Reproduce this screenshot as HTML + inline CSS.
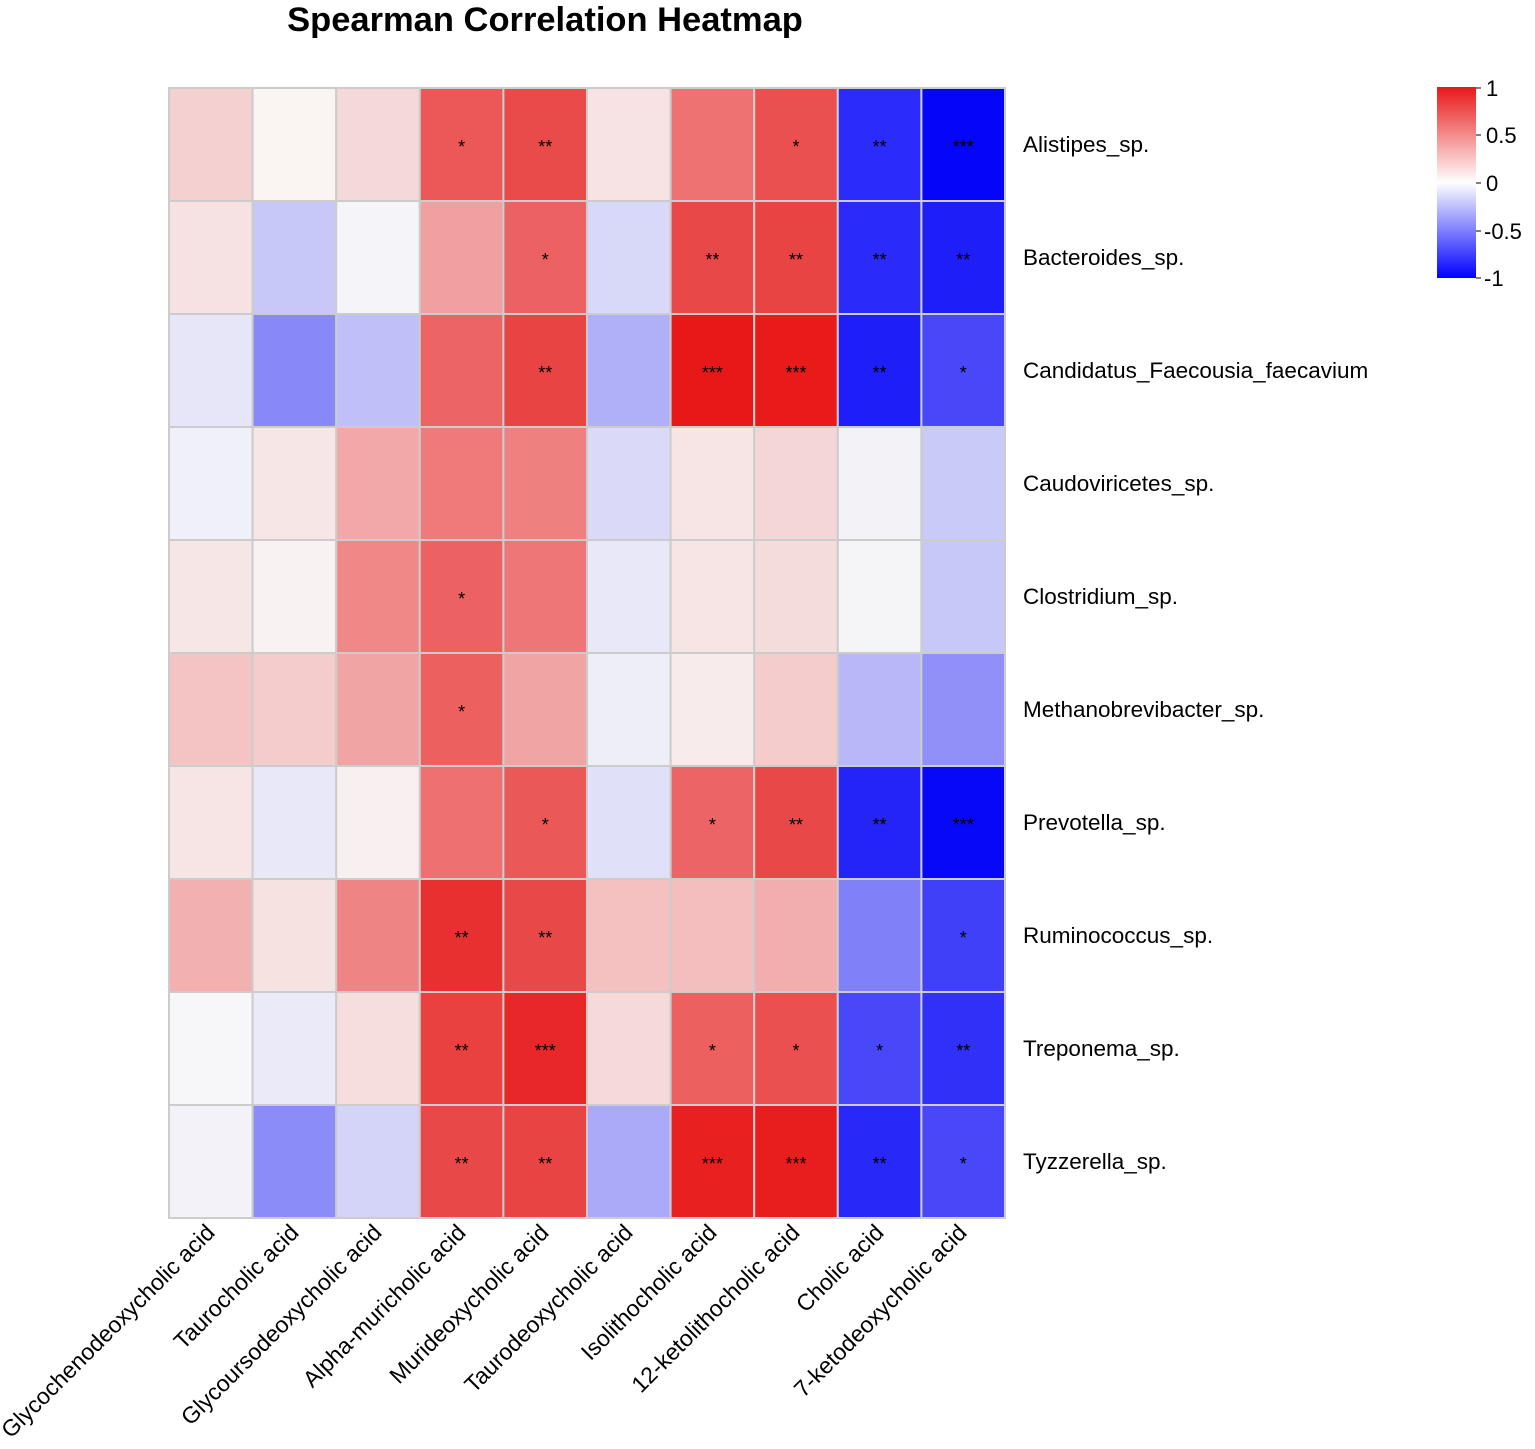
<!DOCTYPE html>
<html><head><meta charset="utf-8"><style>body{margin:0;background:#fff}svg{display:block}text{font-family:"Liberation Sans",Arial,sans-serif}</style></head><body>
<svg width="1535" height="1449" viewBox="0 0 1535 1449" xmlns="http://www.w3.org/2000/svg">
<defs><linearGradient id="lg" x1="0" y1="0" x2="0" y2="1"><stop offset="0" stop-color="#E81818"/><stop offset="0.5" stop-color="#FFFFFF"/><stop offset="1" stop-color="#0000FF"/></linearGradient></defs>
<text x="545" y="31" font-size="34.5" font-weight="bold" text-anchor="middle">Spearman Correlation Heatmap</text>
<g stroke="#cccccc" stroke-width="2">
<rect x="169" y="88" width="83.6" height="113" fill="#F5D0D0"/><rect x="252.6" y="88" width="83.6" height="113" fill="#FAF5F3"/><rect x="336.2" y="88" width="83.6" height="113" fill="#F5D8D8"/><rect x="419.8" y="88" width="83.6" height="113" fill="#EC5858"/><rect x="503.4" y="88" width="83.6" height="113" fill="#E94A4A"/><rect x="587" y="88" width="83.6" height="113" fill="#F7E3E3"/><rect x="670.6" y="88" width="83.6" height="113" fill="#EE7272"/><rect x="754.2" y="88" width="83.6" height="113" fill="#EB5050"/><rect x="837.8" y="88" width="83.6" height="113" fill="#2B2BFB"/><rect x="921.4" y="88" width="83.6" height="113" fill="#0505FA"/>
<rect x="169" y="201" width="83.6" height="113" fill="#F6E2E2"/><rect x="252.6" y="201" width="83.6" height="113" fill="#C8C8F8"/><rect x="336.2" y="201" width="83.6" height="113" fill="#F5F4F9"/><rect x="419.8" y="201" width="83.6" height="113" fill="#F0A0A0"/><rect x="503.4" y="201" width="83.6" height="113" fill="#EC6262"/><rect x="587" y="201" width="83.6" height="113" fill="#D8D8F8"/><rect x="670.6" y="201" width="83.6" height="113" fill="#E94848"/><rect x="754.2" y="201" width="83.6" height="113" fill="#E94444"/><rect x="837.8" y="201" width="83.6" height="113" fill="#2A2AF9"/><rect x="921.4" y="201" width="83.6" height="113" fill="#1E1EF9"/>
<rect x="169" y="314" width="83.6" height="113" fill="#E6E6F8"/><rect x="252.6" y="314" width="83.6" height="113" fill="#8888F8"/><rect x="336.2" y="314" width="83.6" height="113" fill="#C0C0F8"/><rect x="419.8" y="314" width="83.6" height="113" fill="#EC6464"/><rect x="503.4" y="314" width="83.6" height="113" fill="#E94444"/><rect x="587" y="314" width="83.6" height="113" fill="#B0B0F8"/><rect x="670.6" y="314" width="83.6" height="113" fill="#E81818"/><rect x="754.2" y="314" width="83.6" height="113" fill="#E81A1A"/><rect x="837.8" y="314" width="83.6" height="113" fill="#1E1EF8"/><rect x="921.4" y="314" width="83.6" height="113" fill="#4848F8"/>
<rect x="169" y="427" width="83.6" height="113" fill="#F0F0F8"/><rect x="252.6" y="427" width="83.6" height="113" fill="#F7E6E6"/><rect x="336.2" y="427" width="83.6" height="113" fill="#F2A8A8"/><rect x="419.8" y="427" width="83.6" height="113" fill="#EE7A7A"/><rect x="503.4" y="427" width="83.6" height="113" fill="#EE8080"/><rect x="587" y="427" width="83.6" height="113" fill="#DADAF8"/><rect x="670.6" y="427" width="83.6" height="113" fill="#F7E5E5"/><rect x="754.2" y="427" width="83.6" height="113" fill="#F5D6D6"/><rect x="837.8" y="427" width="83.6" height="113" fill="#F3F3F7"/><rect x="921.4" y="427" width="83.6" height="113" fill="#CACAF8"/>
<rect x="169" y="540" width="83.6" height="113" fill="#F7E6E6"/><rect x="252.6" y="540" width="83.6" height="113" fill="#F8F2F2"/><rect x="336.2" y="540" width="83.6" height="113" fill="#F08888"/><rect x="419.8" y="540" width="83.6" height="113" fill="#EC6262"/><rect x="503.4" y="540" width="83.6" height="113" fill="#EE7676"/><rect x="587" y="540" width="83.6" height="113" fill="#E8E8F8"/><rect x="670.6" y="540" width="83.6" height="113" fill="#F7E4E4"/><rect x="754.2" y="540" width="83.6" height="113" fill="#F5DCDC"/><rect x="837.8" y="540" width="83.6" height="113" fill="#F5F5F8"/><rect x="921.4" y="540" width="83.6" height="113" fill="#C8C8F8"/>
<rect x="169" y="653" width="83.6" height="113" fill="#F4C4C4"/><rect x="252.6" y="653" width="83.6" height="113" fill="#F4CCCC"/><rect x="336.2" y="653" width="83.6" height="113" fill="#F0A4A4"/><rect x="419.8" y="653" width="83.6" height="113" fill="#EC6060"/><rect x="503.4" y="653" width="83.6" height="113" fill="#F0A4A4"/><rect x="587" y="653" width="83.6" height="113" fill="#EEEEF8"/><rect x="670.6" y="653" width="83.6" height="113" fill="#F8EBEB"/><rect x="754.2" y="653" width="83.6" height="113" fill="#F4CCCC"/><rect x="837.8" y="653" width="83.6" height="113" fill="#B8B8F8"/><rect x="921.4" y="653" width="83.6" height="113" fill="#9090F8"/>
<rect x="169" y="766" width="83.6" height="113" fill="#F7E4E4"/><rect x="252.6" y="766" width="83.6" height="113" fill="#E8E8F8"/><rect x="336.2" y="766" width="83.6" height="113" fill="#F8F0F0"/><rect x="419.8" y="766" width="83.6" height="113" fill="#EE7070"/><rect x="503.4" y="766" width="83.6" height="113" fill="#EB5858"/><rect x="587" y="766" width="83.6" height="113" fill="#E0E0F8"/><rect x="670.6" y="766" width="83.6" height="113" fill="#EC6464"/><rect x="754.2" y="766" width="83.6" height="113" fill="#E94848"/><rect x="837.8" y="766" width="83.6" height="113" fill="#2424F9"/><rect x="921.4" y="766" width="83.6" height="113" fill="#0808F8"/>
<rect x="169" y="879" width="83.6" height="113" fill="#F2B0B0"/><rect x="252.6" y="879" width="83.6" height="113" fill="#F7E2E2"/><rect x="336.2" y="879" width="83.6" height="113" fill="#EF8484"/><rect x="419.8" y="879" width="83.6" height="113" fill="#E83030"/><rect x="503.4" y="879" width="83.6" height="113" fill="#E94848"/><rect x="587" y="879" width="83.6" height="113" fill="#F4C0C0"/><rect x="670.6" y="879" width="83.6" height="113" fill="#F4BEBE"/><rect x="754.2" y="879" width="83.6" height="113" fill="#F2AEAE"/><rect x="837.8" y="879" width="83.6" height="113" fill="#8080F8"/><rect x="921.4" y="879" width="83.6" height="113" fill="#4040F8"/>
<rect x="169" y="992" width="83.6" height="113" fill="#F7F6F8"/><rect x="252.6" y="992" width="83.6" height="113" fill="#EAEAF8"/><rect x="336.2" y="992" width="83.6" height="113" fill="#F6DEDE"/><rect x="419.8" y="992" width="83.6" height="113" fill="#E94040"/><rect x="503.4" y="992" width="83.6" height="113" fill="#E82828"/><rect x="587" y="992" width="83.6" height="113" fill="#F6DADA"/><rect x="670.6" y="992" width="83.6" height="113" fill="#EC6060"/><rect x="754.2" y="992" width="83.6" height="113" fill="#EB5050"/><rect x="837.8" y="992" width="83.6" height="113" fill="#4848F8"/><rect x="921.4" y="992" width="83.6" height="113" fill="#3030F8"/>
<rect x="169" y="1105" width="83.6" height="113" fill="#F2F2F8"/><rect x="252.6" y="1105" width="83.6" height="113" fill="#8C8CF8"/><rect x="336.2" y="1105" width="83.6" height="113" fill="#D4D4F8"/><rect x="419.8" y="1105" width="83.6" height="113" fill="#E94848"/><rect x="503.4" y="1105" width="83.6" height="113" fill="#E94444"/><rect x="587" y="1105" width="83.6" height="113" fill="#AAAAF8"/><rect x="670.6" y="1105" width="83.6" height="113" fill="#E82020"/><rect x="754.2" y="1105" width="83.6" height="113" fill="#E81E1E"/><rect x="837.8" y="1105" width="83.6" height="113" fill="#2828F8"/><rect x="921.4" y="1105" width="83.6" height="113" fill="#4848F8"/>
</g>
<g font-size="18" text-anchor="middle" fill="#000">
<text x="461.6" y="153">*</text><text x="545.2" y="153">**</text><text x="796" y="153">*</text><text x="879.6" y="153">**</text><text x="963.2" y="153">***</text>
<text x="545.2" y="266">*</text><text x="712.4" y="266">**</text><text x="796" y="266">**</text><text x="879.6" y="266">**</text><text x="963.2" y="266">**</text>
<text x="545.2" y="379">**</text><text x="712.4" y="379">***</text><text x="796" y="379">***</text><text x="879.6" y="379">**</text><text x="963.2" y="379">*</text>
<text x="461.6" y="605">*</text>
<text x="461.6" y="718">*</text>
<text x="545.2" y="831">*</text><text x="712.4" y="831">*</text><text x="796" y="831">**</text><text x="879.6" y="831">**</text><text x="963.2" y="831">***</text>
<text x="461.6" y="944">**</text><text x="545.2" y="944">**</text><text x="963.2" y="944">*</text>
<text x="461.6" y="1057">**</text><text x="545.2" y="1057">***</text><text x="712.4" y="1057">*</text><text x="796" y="1057">*</text><text x="879.6" y="1057">*</text><text x="963.2" y="1057">**</text>
<text x="461.6" y="1170">**</text><text x="545.2" y="1170">**</text><text x="712.4" y="1170">***</text><text x="796" y="1170">***</text><text x="879.6" y="1170">**</text><text x="963.2" y="1170">*</text>
</g>
<g font-size="22.5" fill="#000">
<text x="1023" y="152">Alistipes_sp.</text>
<text x="1023" y="265">Bacteroides_sp.</text>
<text x="1023" y="378">Candidatus_Faecousia_faecavium</text>
<text x="1023" y="491">Caudoviricetes_sp.</text>
<text x="1023" y="604">Clostridium_sp.</text>
<text x="1023" y="717">Methanobrevibacter_sp.</text>
<text x="1023" y="830">Prevotella_sp.</text>
<text x="1023" y="943">Ruminococcus_sp.</text>
<text x="1023" y="1056">Treponema_sp.</text>
<text x="1023" y="1169">Tyzzerella_sp.</text>
</g>
<g font-size="23" fill="#000" text-anchor="end">
<text transform="translate(216,1234) rotate(-45)">Glycochenodeoxycholic acid</text>
<text transform="translate(300,1234) rotate(-45)">Taurocholic acid</text>
<text transform="translate(383,1234) rotate(-45)">Glycoursodeoxycholic acid</text>
<text transform="translate(467,1234) rotate(-45)">Alpha-muricholic acid</text>
<text transform="translate(550,1234) rotate(-45)">Murideoxycholic acid</text>
<text transform="translate(634,1234) rotate(-45)">Taurodeoxycholic acid</text>
<text transform="translate(718,1234) rotate(-45)">Isolithocholic acid</text>
<text transform="translate(801,1234) rotate(-45)">12-ketolithocholic acid</text>
<text transform="translate(885,1234) rotate(-45)">Cholic acid</text>
<text transform="translate(968,1234) rotate(-45)">7-ketodeoxycholic acid</text>
</g>
<rect x="1437" y="87" width="39" height="191" fill="url(#lg)"/>
<g stroke="#555" stroke-width="1.5"><line x1="1476" y1="88" x2="1481" y2="88"/><line x1="1476" y1="135" x2="1481" y2="135"/><line x1="1476" y1="183" x2="1481" y2="183"/><line x1="1476" y1="231" x2="1481" y2="231"/><line x1="1476" y1="278" x2="1481" y2="278"/></g>
<g font-size="22" fill="#000">
<text x="1486" y="96">1</text><text x="1486" y="143">0.5</text><text x="1486" y="191">0</text><text x="1484" y="239">-0.5</text><text x="1484" y="286">-1</text>
</g>
</svg>
</body></html>
